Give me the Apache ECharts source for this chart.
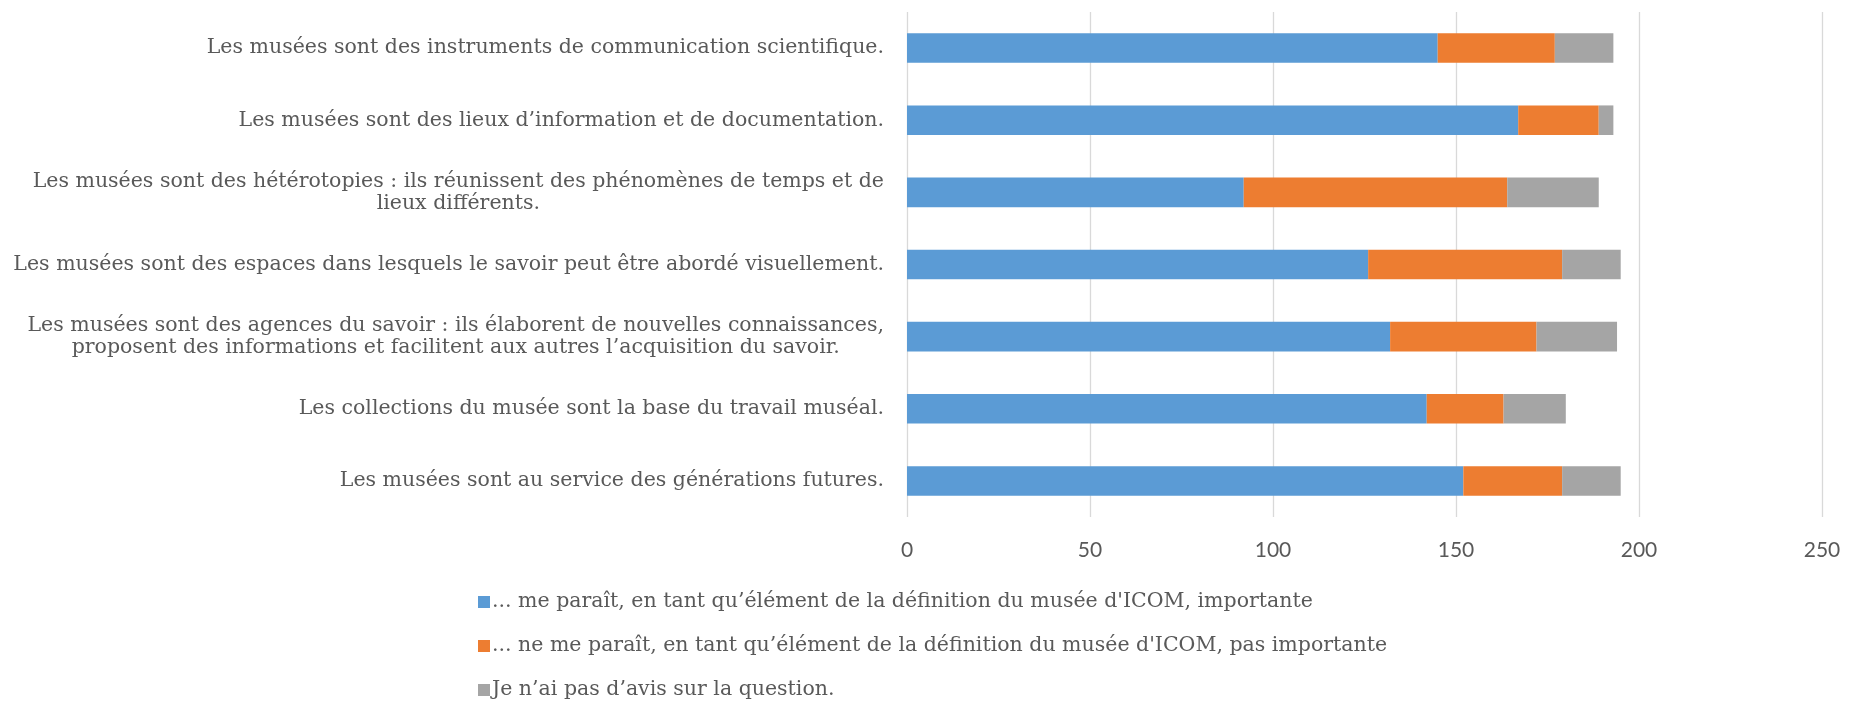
<!DOCTYPE html>
<html>
<head>
<meta charset="utf-8">
<script src="https://cdn.jsdelivr.net/npm/echarts@6/dist/echarts.min.js"></script>
<style>
  html, body { margin: 0; padding: 0; background: #fff; }
  #chart { width: 1854px; height: 702px; }
</style>
</head>
<body>
<div id="chart"></div>
<script>
// categories, top to bottom
var categories = [
  'Les musées sont des instruments de communication scientifique.',
  'Les musées sont des lieux d’information et de documentation.',
  'Les musées sont des hétérotopies : ils réunissent des phénomènes de temps et de\nlieux différents.',
  'Les musées sont des espaces dans lesquels le savoir peut être abordé visuellement.',
  'Les musées sont des agences du savoir : ils élaborent de nouvelles connaissances,\nproposent des informations et facilitent aux autres l’acquisition du savoir.',
  'Les collections du musée sont la base du travail muséal.',
  'Les musées sont au service des générations futures.'
];
var seriesNames = [
  '... me paraît, en tant qu’élément de la définition du musée d\'ICOM, importante',
  '... ne me paraît, en tant qu’élément de la définition du musée d\'ICOM, pas importante',
  'Je n’ai pas d’avis sur la question.'
];
var important = [145, 167, 92, 126, 132, 142, 152];
var pasImportant = [32, 22, 72, 53, 40, 21, 27];
var sansAvis = [16, 4, 25, 16, 22, 17, 16];
var xTicks = [0, 50, 100, 150, 200, 250];

var colors = ['#5B9BD5', '#ED7D31', '#A5A5A5'];
var serif = 'DejaVu Serif';
var textColor = '#595959';

var chart = echarts.init(document.getElementById('chart'));

var option = {
  animation: false,
  color: colors,
  grid: {
    left: 907,
    right: 32,
    top: 12,
    bottom: 185,
    containLabel: false
  },
  legend: {
    orient: 'vertical',
    left: 473,
    top: 586,
    height: 160,
    padding: 5,
    icon: 'rect',
    itemWidth: 12,
    itemHeight: 12,
    itemGap: 22,
    textStyle: {
      fontFamily: serif,
      fontSize: 20.5,
      lineHeight: 22,
      color: textColor,
      padding: [0, 0, 0, -3]
    },
    data: seriesNames
  },
  xAxis: {
    type: 'value',
    min: xTicks[0],
    max: xTicks[xTicks.length - 1],
    interval: 50,
    axisLine: { show: false },
    axisTick: { show: false },
    splitLine: { lineStyle: { color: '#D9D9D9', width: 1.3 } },
    axisLabel: {
      margin: 23,
      fontFamily: 'Lato',
      fontSize: 21,
      color: textColor
    }
  },
  yAxis: {
    type: 'category',
    inverse: true,
    data: categories,
    axisLine: { show: false },
    axisTick: { show: false },
    axisLabel: {
      margin: 23,
      fontFamily: serif,
      fontSize: 20.5,
      color: textColor,
      formatter: function (value) {
        return value.split('\n').map(function (s) {
          return '{c|' + s + '}';
        }).join('\n');
      },
      rich: {
        c: {
          fontFamily: serif,
          fontSize: 20.5,
          lineHeight: 22,
          color: textColor,
          align: 'center'
        }
      }
    }
  },
  series: [
    {
      name: seriesNames[0],
      type: 'bar',
      stack: 'total',
      barWidth: '41%',
      data: important
    },
    {
      name: seriesNames[1],
      type: 'bar',
      stack: 'total',
      data: pasImportant
    },
    {
      name: seriesNames[2],
      type: 'bar',
      stack: 'total',
      data: sansAvis
    }
  ]
};

chart.setOption(option);
</script>
</body>
</html>
